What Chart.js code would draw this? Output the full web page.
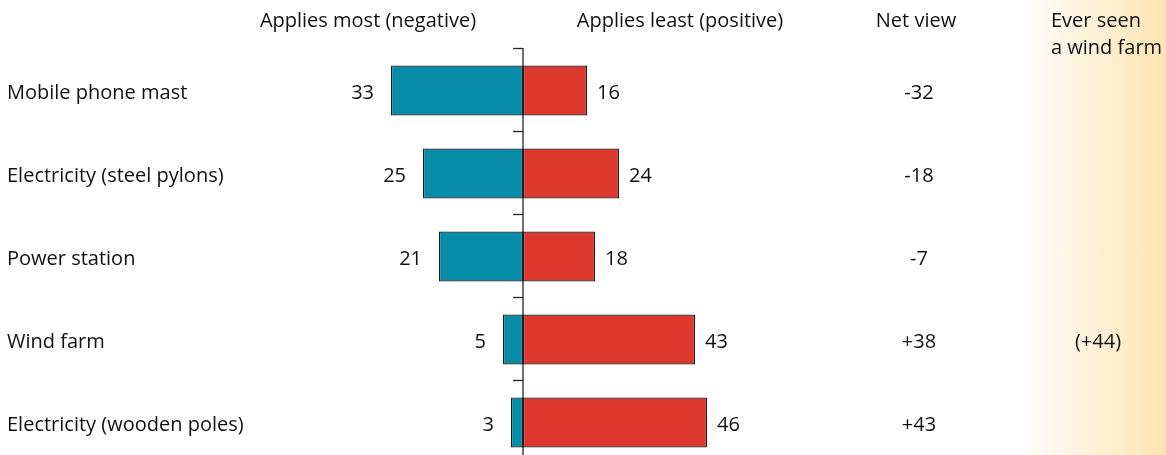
<!DOCTYPE html>
<html>
<head>
<meta charset="utf-8">
<script src="https://cdn.jsdelivr.net/npm/chart.js@4"></script>
<style>
  html, body { margin: 0; padding: 0; background: #fff; overflow: hidden; }
  #wrap { position: relative; width: 1166px; height: 455px; }
  #bandaNaranja {
    position: absolute; left: 1018px; top: 0; width: 148px; height: 455px;
    background: linear-gradient(to right, #ffffff, #fde4b2);
  }
  #grafico { position: absolute; left: 0; top: 0; }
</style>
</head>
<body>
<div id="wrap">
  <div id="bandaNaranja"></div>
  <canvas id="grafico" width="1166" height="470"></canvas>
</div>
<script>
// Categorias y valores
const categorias = [
  'Mobile phone mast',
  'Electricity (steel pylons)',
  'Power station',
  'Wind farm',
  'Electricity (wooden poles)'
];
const aplicaMas = [33, 25, 21, 5, 3];      // negativo
const aplicaMenos = [16, 24, 18, 43, 46];  // positivo
const vistaNeta = ['-32', '-18', '-7', '+38', '+43'];
const vistoParque = ['', '', '', '(+44)', ''];

const FUENTE = '"Open Sans", "Noto Sans", sans-serif';

// Plugin para el eje central, marcas y textos
const plugTextos = {
  id: 'textos',
  afterDatasetsDraw(chart) {
    const ctx = chart.ctx;
    const x = chart.scales.x;
    const y = chart.scales.y;
    const area = chart.chartArea;
    const x0 = x.getPixelForValue(0);
    const paso = y.getPixelForValue(1) - y.getPixelForValue(0);

    ctx.save();
    // eje vertical
    ctx.strokeStyle = '#222';
    ctx.lineWidth = 1.3;
    ctx.beginPath();
    ctx.moveTo(x0, area.top - 1);
    ctx.lineTo(x0, area.bottom);
    ctx.stroke();
    // marcas entre categorias
    for (let i = 0; i < categorias.length; i++) {
      const yy = Math.round(y.getPixelForValue(i) - paso / 2) - 0.5;
      ctx.beginPath();
      ctx.moveTo(x0 - 10, yy);
      ctx.lineTo(x0, yy);
      ctx.stroke();
    }

    ctx.fillStyle = '#111';
    ctx.font = '20px ' + FUENTE;
    ctx.textBaseline = 'middle';

    categorias.forEach((cat, i) => {
      const yy = y.getPixelForValue(i) + 3;
      ctx.textAlign = 'left';
      ctx.fillText(cat, 7, yy);
      ctx.textAlign = 'right';
      ctx.fillText(String(aplicaMas[i]), x.getPixelForValue(-aplicaMas[i]) - 17, yy);
      ctx.textAlign = 'left';
      ctx.fillText(String(aplicaMenos[i]), x.getPixelForValue(aplicaMenos[i]) + 10, yy);
      ctx.textAlign = 'center';
      ctx.fillText(vistaNeta[i], 919, yy);
      if (vistoParque[i]) ctx.fillText(vistoParque[i], 1098, yy);
    });

    // encabezados
    ctx.textAlign = 'center';
    ctx.fillText('Applies most (negative)', 368, 21);
    ctx.fillText('Applies least (positive)', 680, 21);
    ctx.fillText('Net view', 916, 21);
    ctx.textAlign = 'left';
    ctx.fillText('Ever seen', 1051, 21);
    ctx.fillText('a wind farm', 1051, 48);
    ctx.restore();
  }
};

new Chart(document.getElementById('grafico').getContext('2d'), {
  type: 'bar',
  data: {
    labels: categorias,
    datasets: [
      {
        label: 'Applies most (negative)',
        data: aplicaMas.map(v => -v),
        backgroundColor: '#068ba8',
        borderColor: '#1a1a1a',
        borderWidth: 1.2,
        borderSkipped: false
      },
      {
        label: 'Applies least (positive)',
        data: aplicaMenos,
        backgroundColor: '#dc382e',
        borderColor: '#1a1a1a',
        borderWidth: 1.2,
        borderSkipped: false
      }
    ]
  },
  options: {
    indexAxis: 'y',
    responsive: false,
    animation: false,
    maintainAspectRatio: false,
    layout: { padding: { left: 283, right: 403, top: 49, bottom: 6 } },
    datasets: { bar: { categoryPercentage: 0.6, barPercentage: 1 } },
    scales: {
      x: { stacked: true, min: -60, max: 60, display: false },
      y: { stacked: true, display: false }
    },
    plugins: {
      legend: { display: false },
      tooltip: { enabled: false }
    }
  },
  plugins: [plugTextos]
});
</script>
</body>
</html>
